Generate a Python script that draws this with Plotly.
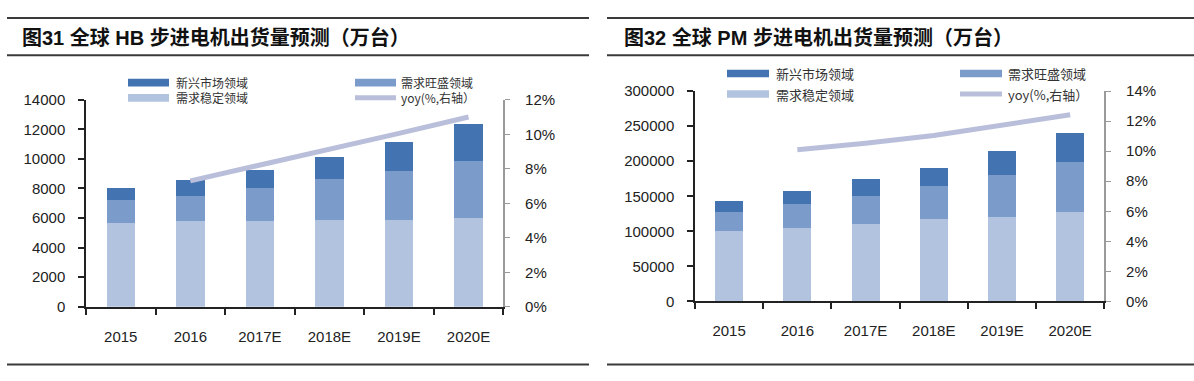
import plotly.graph_objects as go

years = ["2015", "2016", "2017E", "2018E", "2019E", "2020E"]

# 图31 HB (万台)
hb_stable = [5700, 5800, 5800, 5900, 5900, 6000]
hb_strong = [1550, 1700, 2250, 2750, 3250, 3850]
hb_emerging = [750, 1100, 1200, 1450, 2000, 2500]
hb_yoy_years = ["2016", "2017E", "2018E", "2019E", "2020E"]
hb_yoy = [0.073, 0.082, 0.0915, 0.1005, 0.110]

# 图32 PM (万台)
pm_stable = [100000, 105000, 110000, 117000, 121000, 127000]
pm_strong = [27000, 34000, 41000, 47000, 60000, 72000]
pm_emerging = [16000, 18000, 23000, 27000, 33000, 42000]
pm_yoy_years = ["2016", "2017E", "2018E", "2019E", "2020E"]
pm_yoy = [0.101, 0.1053, 0.1105, 0.1173, 0.1243]

series_names = ["新兴市场领域", "需求旺盛领域", "需求稳定领域", "yoy(%,右轴）"]
titles = ["图31 全球 HB 步进电机出货量预测（万台）", "图32 全球 PM 步进电机出货量预测（万台）"]

C_EMERG = "#4473B2"
C_STRONG = "#7B9BCB"
C_STABLE = "#B2C3DF"
C_YOY = "#B9BFDA"
W, H = 1194, 381
NUM_FONT = "Liberation Sans, Arial, Noto Sans CJK SC"
CJK_FONT = "Noto Sans CJK SC, Liberation Sans"

fig = go.Figure()

def px(x):
    return x / W

def py(y):
    return 1 - y / H

def add_chart(xa, ya, ya2, stable, strong, emerging, yoy_x, yoy):
    fig.add_trace(go.Bar(x=years, y=stable, marker_color=C_STABLE, name=series_names[2],
                         xaxis=xa, yaxis=ya, showlegend=False, marker_line_width=0))
    fig.add_trace(go.Bar(x=years, y=strong, marker_color=C_STRONG, name=series_names[1],
                         xaxis=xa, yaxis=ya, showlegend=False, marker_line_width=0))
    fig.add_trace(go.Bar(x=years, y=emerging, marker_color=C_EMERG, name=series_names[0],
                         xaxis=xa, yaxis=ya, showlegend=False, marker_line_width=0))
    fig.add_trace(go.Scatter(x=yoy_x, y=yoy, mode="lines", line=dict(color=C_YOY, width=5),
                             name=series_names[3], xaxis=xa, yaxis=ya2, showlegend=False))

add_chart("x", "y", "y2", hb_stable, hb_strong, hb_emerging, hb_yoy_years, hb_yoy)
add_chart("x2", "y3", "y4", pm_stable, pm_strong, pm_emerging, pm_yoy_years, pm_yoy)

tickfont = dict(family=NUM_FONT, size=15, color="#222")

def xaxis_cfg(dom, anchor):
    return dict(domain=dom, anchor=anchor, type="category", showline=True, linecolor="#222",
                linewidth=1.5, ticks="outside", tickson="boundaries", ticklen=6, tickwidth=1.5,
                tickcolor="#222", tickfont=tickfont, showgrid=False, zeroline=False,
                ticklabelstandoff=15, fixedrange=True)

def yaxis_cfg(dom, anchor, rng, dtick):
    return dict(domain=dom, anchor=anchor, range=rng, dtick=dtick, tickformat="d",
                showline=True, linecolor="#222",
                linewidth=1.5, ticks="outside", ticklen=6, tickwidth=1.5, tickcolor="#222",
                tickfont=tickfont, showgrid=False, zeroline=False, ticklabelstandoff=10)

def yaxis_r_cfg(overlay, anchor, rng, dtick):
    return dict(overlaying=overlay, anchor=anchor, side="right", range=rng, dtick=dtick,
                tickformat=".0%", showline=True, linecolor="#9A9A9A", linewidth=1.5,
                ticks="outside", ticklen=5, tickwidth=1.2, tickcolor="#9A9A9A",
                tickfont=tickfont, showgrid=False, zeroline=False, ticklabelstandoff=12)

L_X = [px(86), px(503.3)]
L_Y = [py(311.7), py(95)]
R_X = [px(695), px(1104.3)]
R_Y = [py(306), py(86)]

fig.update_layout(
    width=W, height=H, margin=dict(l=0, r=0, t=0, b=0),
    paper_bgcolor="white", plot_bgcolor="white",
    barmode="stack", bargap=0.59, showlegend=False,
    xaxis=xaxis_cfg(L_X, "y"),
    yaxis=yaxis_cfg(L_Y, "x", [0, 14000], 2000),
    yaxis2=yaxis_r_cfg("y", "x", [0, 0.12], 0.02),
    xaxis2=xaxis_cfg(R_X, "y3"),
    yaxis3=yaxis_cfg(R_Y, "x2", [0, 300000], 50000),
    yaxis4=yaxis_r_cfg("y3", "x2", [0, 0.14], 0.02),
)

shapes = []
annotations = []

# header / footer rules and titles
for x0, x1, tx, title in [(7, 589, 20, titles[0]), (607, 1194, 622, titles[1])]:
    for yy in (9.5, 48.5, 372):
        shapes.append(dict(type="line", xref="paper", yref="paper", x0=px(x0), x1=px(x1),
                           y0=py(yy), y1=py(yy), line=dict(color="#3A3A3A", width=2)))
    annotations.append(dict(xref="paper", yref="paper", x=px(tx), y=py(30), xanchor="left",
                            yanchor="middle", align="left", showarrow=False,
                            text="<b>" + title + "</b>",
                            font=dict(family=NUM_FONT, size=20, color="#111")))

# manual legends (2 x 2 grid)
def legend(col1_sw, col1_tx, col2_sw, col2_tx, row1, row2, sw_w, fsize):
    items = [
        (col1_sw, col1_tx, row1, C_EMERG, series_names[0], "rect"),
        (col2_sw, col2_tx, row1, C_STRONG, series_names[1], "rect"),
        (col1_sw, col1_tx, row2, C_STABLE, series_names[2], "rect"),
        (col2_sw, col2_tx, row2, C_YOY, series_names[3], "line"),
    ]
    for sx, tx, ry, col, name, kind in items:
        if kind == "rect":
            shapes.append(dict(type="rect", xref="paper", yref="paper", x0=px(sx), x1=px(sx + sw_w),
                               y0=py(ry + 4), y1=py(ry - 4), fillcolor=col, line=dict(width=0)))
        else:
            shapes.append(dict(type="line", xref="paper", yref="paper", x0=px(sx), x1=px(sx + sw_w),
                               y0=py(ry), y1=py(ry), line=dict(color=col, width=5)))
        annotations.append(dict(xref="paper", yref="paper", x=px(tx), y=py(ry), xanchor="left",
                                yanchor="middle", align="left", showarrow=False, text=name,
                                borderpad=0,
                                font=dict(family=CJK_FONT, size=fsize, color="#333")))

legend(128, 175, 355, 400, 77, 93, 41, 12)
legend(727, 775, 960, 1007, 67.5, 89, 42, 13)

fig.update_layout(shapes=shapes, annotations=annotations)
fig.write_html("out.html", config={"displayModeBar": False},
               post_script="document.body.style.margin='0';document.body.style.overflow='hidden';")
